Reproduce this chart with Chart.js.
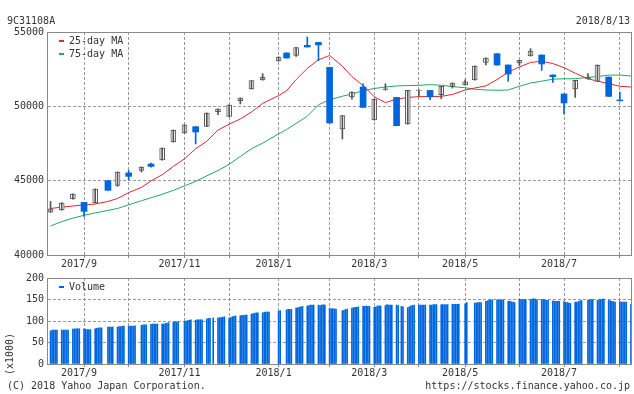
<!DOCTYPE html>
<html><head><meta charset="utf-8">
<script src="https://cdn.jsdelivr.net/npm/chart.js@4/dist/chart.umd.min.js"></script>
<style>
html,body{margin:0;padding:0;background:#fff;}
#wrap{position:relative;width:634px;height:394px;overflow:hidden;font-family:"DejaVu Sans Mono",monospace;font-size:10px;color:#333;}
.t{position:absolute;white-space:nowrap;line-height:12px;height:12px;}
.dash{position:absolute;width:5px;height:2px;}
canvas{position:absolute;left:0;}
</style></head><body>
<div id="wrap">
 <canvas id="main" width="634" height="275" style="top:0;width:634px;height:275px"></canvas>
 <canvas id="vol" width="634" height="128" style="top:266px;width:634px;height:128px"></canvas>
 <div class="t" style="left:7px;top:15px">9C31108A</div>
 <div class="t" style="right:4px;top:15px">2018/8/13</div>
 <div class="dash" style="left:59px;top:40px;background:#e8212e"></div>
 <div class="t" style="left:69px;top:35px">25-day MA</div>
 <div class="dash" style="left:59px;top:53px;background:#20a860"></div>
 <div class="t" style="left:69px;top:48px">75-day MA</div>
 <div class="dash" style="left:59px;top:286px;background:#0066dd"></div>
 <div class="t" style="left:69px;top:281px">Volume</div>
 <div class="t" style="left:-12px;top:348px;width:44px;text-align:center;transform:rotate(-90deg)">(x1000)</div>
 <div class="t" style="left:7px;top:380px">(C) 2018 Yahoo Japan Corporation.</div>
 <div class="t" style="right:4px;top:380px">https://stocks.finance.yahoo.co.jp</div>
</div>
<script>
// ---------- data ----------
const startDate = "2017-08-14";
const endDate = "2018-08-13";
const candleDates = ["2017-08-14","2017-08-21","2017-08-28","2017-09-04","2017-09-11","2017-09-19","2017-09-25","2017-10-02","2017-10-10","2017-10-16","2017-10-23","2017-10-30","2017-11-06","2017-11-13","2017-11-20","2017-11-27","2017-12-04","2017-12-11","2017-12-18","2017-12-25","2018-01-04","2018-01-09","2018-01-15","2018-01-22","2018-01-29","2018-02-05","2018-02-13","2018-02-19","2018-02-26","2018-03-05","2018-03-12","2018-03-19","2018-03-26","2018-04-02","2018-04-09","2018-04-16","2018-04-23","2018-05-01","2018-05-07","2018-05-14","2018-05-21","2018-05-28","2018-06-04","2018-06-11","2018-06-18","2018-06-25","2018-07-02","2018-07-09","2018-07-17","2018-07-23","2018-07-30","2018-08-06"];
const opens  = [42880,43030,43770,43540,43500,45000,44680,45520,45693,46120,46390,47600,48210,48630,48650,49640,49320,50380,51170,51770,53050,53590,53430,54100,54300,52620,48480,50630,51300,49080,51100,50600,48810,51050,51070,50780,51340,51440,51770,52960,53540,52780,52915,53390,53450,52110,50830,51170,51840,51680,51970,50430];
const highs  = [43600,43520,44110,43550,44450,45010,45590,45690,45930,46190,47200,48410,48750,48640,49560,49830,50100,50570,51730,52200,53330,53600,53970,54660,54310,52630,49380,50970,51520,50500,51520,50610,51080,51110,51080,51350,51580,51790,52720,53260,53550,52790,53100,53880,53460,52120,50840,51750,52200,52790,51980,50965];
const lows   = [42870,43010,43760,42600,43490,44340,44620,45070,45580,45900,46380,47590,48200,47470,48640,49440,49310,50160,51160,51760,53040,53240,53360,53990,53070,48870,47800,50490,49920,49070,51090,48690,48800,50670,50450,50510,51230,51430,51760,52780,52770,51680,52750,53380,52420,51610,49490,50600,51830,51670,50660,50370];
const closes = [43100,43500,44105,42935,44440,44350,45585,45290,45921,45960,47200,48410,48750,48275,49550,49820,50090,50560,51725,51950,53320,53250,53960,53990,54130,48880,49370,50965,49930,50494,51170,48700,51070,51100,50630,51340,51570,51640,52710,53250,52780,52175,53090,53720,52850,51990,50225,51745,51975,52780,50670,50370];
const maDates = candleDates.concat(["2018-08-13"]);
const ma25 = [43130,43220,43295,43370,43430,43600,43800,44200,44550,44980,45400,45960,46470,47150,47650,48400,48800,49150,49620,50200,50720,51050,51800,52550,53130,53420,52700,52000,51400,50650,50250,50480,50600,50650,50660,50670,50800,51100,51230,51380,51800,52300,52650,52950,53030,52880,52600,52230,51850,51700,51520,51350,51300];
const ma75 = [41950,42250,42480,42670,42830,43000,43130,43380,43650,43850,44080,44350,44650,44950,45330,45680,46100,46630,47150,47520,48150,48440,48850,49330,50100,50450,50680,50830,51050,51200,51300,51370,51400,51410,51460,51420,51330,51250,51150,51100,51080,51100,51350,51570,51690,51830,51850,51860,51950,52000,52100,52100,52040];
const holidays = ["2017-09-18","2017-10-09","2017-11-03","2017-11-23","2018-01-01","2018-01-02","2018-01-03","2018-01-08","2018-02-12","2018-03-21","2018-04-30","2018-05-03","2018-05-04","2018-07-16"];
// daily volume (x1000), one row per week
const volume = [
 77,79,79,79,79, 79,79,79,79,79, 81,82,82,82,82, 82,81,80,80,80, 82,83,84,84,84,
 86,86,86,86, 86,87,87,88,88, 88,88,88,88,89, 90,91,91,91, 92,93,93,93,93,
 93,93,94,95,96, 97,98,98,98, 99,100,101,102,103, 102,103,103,103,103, 105,106,106,107,
 107,108,108,109,110, 107,108,110,111,112, 112,113,113,114,114, 116,117,118,119,119, 119,120,121,121,121,
 123,124, 126,127,127,127, 130,131,132,133,134, 135,136,137,137,137, 137,136,137,138,137,
 130,128,129,128,128, 124,125,127,128, 130,131,132,132,133, 134,134,135,134,134, 132,133,135,135,135,
 136,138,137,137,137, 137,136,134,133, 131,133,135,136,137, 137,137,137,137,137, 137,137,138,138,138,
 138,138,138,138,138, 139,139,139,139,139, 140,143, 142,142,143,143,143, 146,147,148,149,149,
 149,149,149,149,149, 146,146,145,144,143, 150,150,150,150,150, 150,151,152,151,150, 150,150,149,148,148,
 147,146,146,146,146, 145,144,143,142,141, 144,144,145,147,148, 148,149,150,150, 148,149,150,151,151,
 148,147,146,145,144, 145,144,144,144,144, 139
];
const gridDates = ["2017-09-04","2017-10-02","2017-11-06","2017-12-04","2018-01-04","2018-02-05","2018-03-05","2018-04-02","2018-05-01","2018-06-04","2018-07-02","2018-08-06"];
const gridLabels = ["2017/9","","2017/11","","2018/1","","2018/3","","2018/5","","2018/7",""];
const priceTicks = [40000,45000,50000,55000];
const volTicks = [0,50,100,150,200];

// ---------- helpers ----------
const BASE = Date.UTC(2017,7,14);
function dayIndex(s){ const p = s.split('-').map(Number); return (Date.UTC(p[0],p[1]-1,p[2]) - BASE)/86400000; }
const tradingDays = [];
for (let t = dayIndex(startDate); t <= dayIndex(endDate); t++) {
  const dt = new Date(BASE + t*86400000);
  const wd = dt.getUTCDay();
  if (wd === 0 || wd === 6) continue;
  if (holidays.includes(dt.toISOString().slice(0,10))) continue;
  tradingDays.push(t);
}

const BLUE = '#0066dd', GRAYC = '#555', RED = '#e8212e', GREEN = '#20a860';
Chart.defaults.font.family = '"DejaVu Sans Mono", monospace';
Chart.defaults.font.size = 10;
Chart.defaults.color = '#333';

const wickUp = [], wickDn = [], bodyUp = [], bodyDn = [];
candleDates.forEach((d,i) => {
  const x = dayIndex(d);
  const w = {x, y:[lows[i], highs[i]]};
  const b = {x, y:[Math.min(opens[i],closes[i]), Math.max(opens[i],closes[i])]};
  if (closes[i] >= opens[i]) { wickUp.push(w); bodyUp.push(b); } else { wickDn.push(w); bodyDn.push(b); }
});

const frame = { id:'frame', afterDraw(chart){
  const {ctx, chartArea:a} = chart;
  ctx.save(); ctx.setLineDash([]); ctx.strokeStyle = '#888'; ctx.lineWidth = 1;
  ctx.strokeRect(Math.round(a.left)-0.5, Math.round(a.top)+0.5, Math.round(a.right-a.left)+1, Math.round(a.bottom-a.top));
  ctx.restore();
}};

function xScale(h){
  return {
    type:'linear', min:-1.6, max:dayIndex(endDate), offset:false,
    afterBuildTicks(s){ s.ticks = gridDates.map(d => ({value: dayIndex(d)})); },
    afterFit(s){ s.height = h; },
    ticks:{ callback:(v,i) => gridLabels[i], autoSkip:false, maxRotation:0, padding:0, labelOffset:-5, color:'#333' },
    grid:{ color:'#999', offset:false, drawTicks:true, tickLength:3, tickColor:'#888', tickBorderDash:[] },
    border:{ display:false, dash:[3,2] }
  };
}
function yScale(min,max,ticksArr){
  return {
    min, max,
    afterBuildTicks(s){ s.ticks = ticksArr.map(v => ({value:v})); },
    afterFit(s){ s.width = 48; },
    ticks:{ padding:4, color:'#333', callback: v => String(v) },
    grid:{ color:'#999', drawTicks:false },
    border:{ display:false, dash:[3,2] }
  };
}

const barCommon = { grouped:false, borderSkipped:false, order:1 };
new Chart(document.getElementById('main'), {
  type:'bar',
  data:{ datasets:[
    Object.assign({ data:wickUp, backgroundColor:GRAYC, barThickness:1 }, barCommon),
    Object.assign({ data:wickDn, backgroundColor:BLUE, barThickness:1 }, barCommon),
    Object.assign({ data:bodyUp, backgroundColor:'#fff', borderColor:GRAYC, borderWidth:1, barThickness:5 }, barCommon),
    Object.assign({ data:bodyDn, backgroundColor:BLUE, borderWidth:0, barThickness:6 }, barCommon),
    { type:'line', data:maDates.map((d,i)=>({x:dayIndex(d), y:ma25[i]})), borderColor:RED, borderWidth:1, pointRadius:0, tension:0, order:2 },
    { type:'line', data:maDates.map((d,i)=>({x:dayIndex(d), y:ma75[i]})), borderColor:GREEN, borderWidth:1, pointRadius:0, tension:0, order:3 }
  ]},
  options:{
    responsive:false, animation:false, events:[],
    layout:{ padding:{ top:32, right:3, left:0, bottom:0 } },
    plugins:{ legend:{display:false}, tooltip:{enabled:false} },
    scales:{ x:xScale(20), y:yScale(40000,55000,priceTicks) }
  },
  plugins:[frame]
});

new Chart(document.getElementById('vol'), {
  type:'bar',
  data:{ datasets:[
    { data:tradingDays.slice(0, volume.length).map((t,i)=>({x:t, y:volume[i]})), backgroundColor:BLUE, barThickness:1, grouped:false }
  ]},
  options:{
    responsive:false, animation:false, events:[],
    layout:{ padding:{ top:12, right:3, left:0, bottom:0 } },
    plugins:{ legend:{display:false}, tooltip:{enabled:false} },
    scales:{ x:xScale(30), y:yScale(0,200,volTicks) }
  },
  plugins:[frame]
});
</script>
</body></html>
